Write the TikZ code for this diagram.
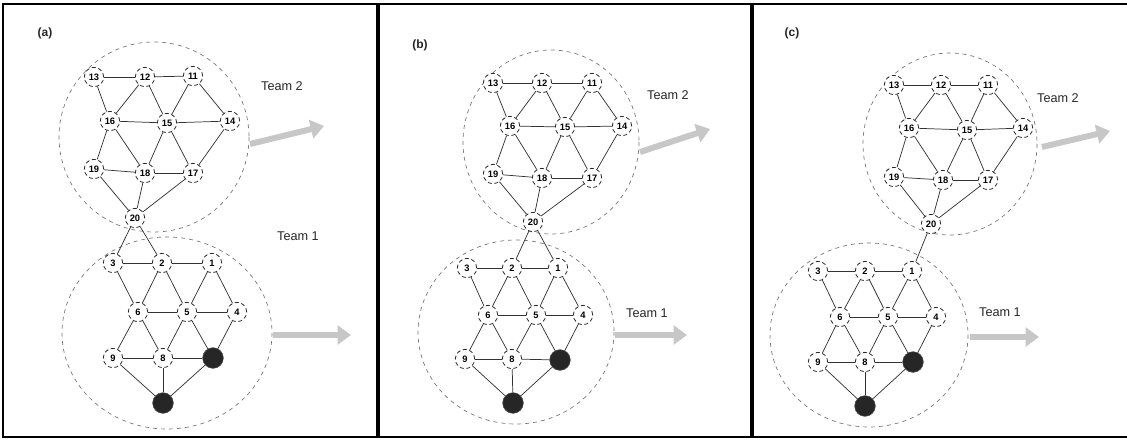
\documentclass[tikz,border=0pt]{standalone}
\usepackage{fontspec}
\setmainfont{Liberation Sans}
\usetikzlibrary{arrows.meta}

% edges shared by every panel; #1 is the panel prefix
\newcommand\netedges[1]{%
  \foreach \u/\v in {13/12,12/11,13/16,12/16,12/15,11/15,11/14,16/15,15/14,
                     16/19,16/18,15/18,15/17,14/17,19/18,18/17,19/20,18/20,17/20,
                     3/2,2/1,3/6,2/6,2/5,1/5,1/4,6/5,5/4,6/9,6/8,5/8,5/B,4/B,
                     9/8,8/B,9/C,8/C,B/C}
    \draw[edge] (#1\u) -- (#1\v);}

\begin{document}
\begin{tikzpicture}[x=0.75pt,y=-0.75pt,
  vtx/.style={circle,draw=black!85,densely dashed,line width=0.6pt,fill=white,
              minimum size=14.5pt,inner sep=0pt,
              font=\fontsize{7}{8}\selectfont\bfseries},
  blk/.style={circle,fill=black!85,draw=black!70,minimum size=15.5pt,inner sep=0pt},
  edge/.style={line width=0.55pt,black!80},
  team/.style={draw=black!55,dash pattern=on 3pt off 3pt,line width=0.5pt},
  lbl/.style={font=\fontsize{9.5}{11}\selectfont,text=black!85},
  plbl/.style={font=\fontsize{9}{11}\selectfont\bfseries,text=black!85},
  push/.style={line width=4.5pt,draw=black!22,-{Triangle[length=10pt,width=14pt]}}]

\useasboundingbox (0,0) rectangle (1127,439);

% frame and panel dividers
\draw[line width=1.1pt] (1127,4) -- (3,4) -- (3,437) -- (1127,437);
\draw[line width=3pt] (378,4) -- (378,437);
\draw[line width=3pt] (752,4) -- (752,437);

% ---------------- panel (a) ----------------
\draw[team] (154,137) ellipse [x radius=95,y radius=95];
\draw[team] (167,333) ellipse [x radius=105,y radius=96];
\foreach \n/\x/\y in {13/94/77,12/145/77,11/193/76,16/110/121,15/167/123,14/230/121,
                      19/94/169,18/145/173,17/193/173,20/135/218,
                      3/113/263,2/162/263,1/212/263,6/138/312,5/187/312,4/237/312,
                      9/113/358,8/163/358}
  \node[vtx] (a\n) at (\x,\y) {\n};
\node[blk] (aB) at (213,358) {};
\node[blk] (aC) at (163,403) {};
\netedges{a}
\draw[edge] (a20) -- (a3);
\draw[edge] (a20) -- (a2);
\node[plbl] (alab) at (45,33) {(a)};
\node[lbl] (at2) at (282,86) {Team 2};
\node[lbl] (at1) at (298,236) {Team 1};
\coordinate (aa1) at (250,144); \coordinate (aa2) at (324,126);
\coordinate (ab1) at (273,335); \coordinate (ab2) at (351,335);
\draw[push] (aa1) -- (aa2);
\draw[push] (ab1) -- (ab2);

% ---------------- panel (b) ----------------
\draw[team] (551,142) ellipse [x radius=88,y radius=92];
\draw[team] (516,332) ellipse [x radius=98,y radius=92];
\foreach \n/\x/\y in {13/493/83,12/542/83,11/592/83,16/510/126,15/565/127,14/622/126,
                      19/493/174,18/542/178,17/592/178,20/533/222,
                      3/467/268,2/512/268,1/558/268,6/488/315,5/536/315,4/583/315,
                      9/465/359,8/512/359}
  \node[vtx] (b\n) at (\x,\y) {\n};
\node[blk] (bB) at (560,360) {};
\node[blk] (bC) at (513,403) {};
\netedges{b}
\draw[edge] (b20) -- (b2);
\draw[edge] (b20) -- (b1);
\node[plbl] (blab) at (420,45) {(b)};
\node[lbl] (bt2) at (668,95) {Team 2};
\node[lbl] (bt1) at (647,313) {Team 1};
\coordinate (ba1) at (640,152); \coordinate (ba2) at (710,129);
\coordinate (bb1) at (615,335); \coordinate (bb2) at (687,335);
\draw[push] (ba1) -- (ba2);
\draw[push] (bb1) -- (bb2);

% ---------------- panel (c) ----------------
\draw[team] (950,144) ellipse [x radius=87,y radius=91];
\draw[team] (869,335) ellipse [x radius=99,y radius=92];
\foreach \n/\x/\y in {13/894/85,12/941/85,11/988/85,16/909/128,15/967/130,14/1023/128,
                      19/894/177,18/943/180,17/988/180,20/931/224,
                      3/818/271,2/865/271,1/912/271,6/840/317,5/888/317,4/936/317,
                      9/818/362,8/865/362}
  \node[vtx] (c\n) at (\x,\y) {\n};
\node[blk] (cB) at (913,362) {};
\node[blk] (cC) at (865,406) {};
\netedges{c}
\draw[edge] (c20) -- (c1);
\node[plbl] (clab) at (792,33) {(c)};
\node[lbl] (ct2) at (1058,98) {Team 2};
\node[lbl] (ct1) at (1000,312) {Team 1};
\coordinate (ca1) at (1042,147); \coordinate (ca2) at (1110,131);
\coordinate (cb1) at (970,337); \coordinate (cb2) at (1039,337);
\draw[push] (ca1) -- (ca2);
\draw[push] (cb1) -- (cb2);

\end{tikzpicture}
\end{document}
